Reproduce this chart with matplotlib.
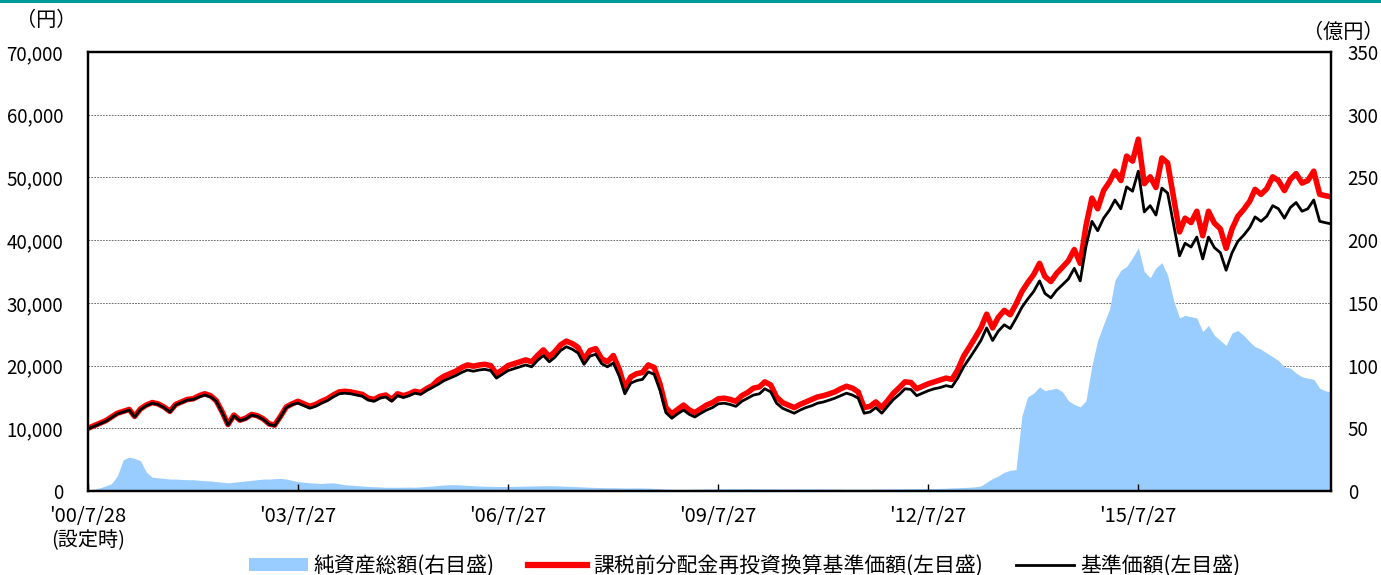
import numpy as np
import pandas as pd
import matplotlib
matplotlib.use('Agg')
import matplotlib.pyplot as plt
from matplotlib.patches import Patch, Rectangle
from matplotlib.lines import Line2D

plt.rcParams['font.family'] = ['Noto Sans CJK JP', 'DejaVu Sans']

# 月次データ（2000/7/28 設定時 〜 2018/4）
start = pd.Timestamp('2000-07-28')
n_months = 214
dates = [start + pd.DateOffset(months=i) for i in range(n_months)]

# 基準価額（千円）
nav = [
    9.9, 10.3, 10.7, 11.1, 11.7, 12.3, 12.6, 12.9, 11.8, 13.0, 13.6, 14.0,
    13.8, 13.3, 12.6, 13.7, 14.1, 14.5, 14.6, 15.0, 15.3, 15.0, 14.3, 12.5,
    10.5, 12.0, 11.2, 11.5, 12.1, 11.9, 11.4, 10.6, 10.4, 11.8, 13.3, 13.8,
    14.0, 13.6, 13.2, 13.5, 14.0, 14.4, 15.0, 15.5, 15.6, 15.5, 15.3, 15.1,
    14.5, 14.3, 14.8, 15.0, 14.3, 15.2, 14.9, 15.2, 15.6, 15.4, 16.0, 16.5,
    17.0, 17.6, 18.0, 18.4, 18.9, 19.3, 19.1, 19.3, 19.4, 19.2, 18.0, 18.6,
    19.2, 19.5, 19.8, 20.1, 19.8, 20.8, 21.6, 20.6, 21.3, 22.4, 23.0, 22.6,
    22.0, 20.2, 21.5, 21.8, 20.3, 19.8, 20.4, 18.3, 15.5, 17.2, 17.6, 17.8,
    19.0, 18.6, 16.0, 12.5, 11.6, 12.3, 12.9, 12.2, 11.8, 12.4, 12.9, 13.3,
    13.9, 14.0, 13.8, 13.5, 14.3, 14.8, 15.3, 15.5, 16.3, 15.8, 14.0, 13.2,
    12.8, 12.4, 12.9, 13.3, 13.6, 14.0, 14.2, 14.5, 14.8, 15.2, 15.6, 15.3,
    14.8, 12.4, 12.6, 13.3, 12.4, 13.5, 14.6, 15.4, 16.3, 16.2, 15.2, 15.6,
    16.0, 16.3, 16.5, 16.8, 16.6, 18.0, 19.8, 21.2, 22.5, 24.0, 26.0, 24.0,
    25.5, 26.5, 25.9, 27.5, 29.3, 30.6, 31.8, 33.5, 31.5, 30.8, 32.0, 32.9,
    33.8, 35.5, 33.5, 39.0, 43.0, 41.5, 43.5, 44.8, 46.4, 45.0, 48.5, 47.8,
    51.0, 44.5, 45.5, 44.0, 48.3, 47.5, 42.5, 37.5, 39.5, 38.9, 40.5, 37.0,
    40.5, 38.8, 38.0, 35.2, 38.0, 39.8, 40.8, 42.0, 43.7, 43.0, 43.8, 45.5,
    45.0, 43.5, 45.2, 46.0, 44.6, 45.0, 46.4, 43.0, 42.8, 42.6,
]

# 課税前分配金再投資換算基準価額（千円）
nav_reinv = [
    10.0, 10.4, 10.8, 11.2, 11.8, 12.4, 12.7, 13.0, 11.9, 13.1, 13.7, 14.1,
    13.9, 13.4, 12.7, 13.8, 14.2, 14.6, 14.7, 15.2, 15.5, 15.2, 14.4, 12.6,
    10.6, 12.1, 11.3, 11.6, 12.2, 12.0, 11.5, 10.7, 10.5, 11.9, 13.4, 13.9,
    14.3, 13.9, 13.5, 13.8, 14.3, 14.7, 15.3, 15.8, 15.9, 15.8, 15.6, 15.4,
    14.8, 14.6, 15.1, 15.3, 14.6, 15.5, 15.2, 15.5, 15.9, 15.7, 16.3, 16.8,
    17.7, 18.3, 18.7, 19.1, 19.7, 20.1, 19.9, 20.1, 20.2, 20.0, 18.7, 19.3,
    20.0, 20.3, 20.6, 20.9, 20.6, 21.6, 22.5, 21.4, 22.2, 23.3, 23.9, 23.5,
    22.9, 21.0, 22.4, 22.7, 21.1, 20.6, 21.6, 19.4, 16.4, 18.2, 18.7, 18.9,
    20.1, 19.7, 17.0, 13.3, 12.3, 13.0, 13.7, 12.9, 12.5, 13.1, 13.7, 14.1,
    14.7, 14.8, 14.6, 14.3, 15.2, 15.7, 16.4, 16.6, 17.4, 16.9, 15.0, 14.1,
    13.7, 13.3, 13.8, 14.2, 14.6, 15.0, 15.2, 15.5, 15.8, 16.3, 16.7, 16.4,
    15.8, 13.3, 13.5, 14.2, 13.3, 14.4, 15.6, 16.5, 17.4, 17.3, 16.3, 16.7,
    17.1, 17.4, 17.7, 18.0, 17.8, 19.3, 21.5, 23.0, 24.4, 26.0, 28.2, 26.0,
    27.7, 28.8, 28.1, 29.8, 31.8, 33.2, 34.5, 36.3, 34.2, 33.4, 34.7, 35.7,
    36.7, 38.5, 36.3, 42.3, 46.7, 45.0, 47.9, 49.3, 51.0, 49.5, 53.4, 52.6,
    56.1, 49.0, 50.1, 48.4, 53.1, 52.3, 46.8, 41.3, 43.5, 42.8, 44.6, 40.7,
    44.6, 42.7, 41.8, 38.7, 41.8, 43.8, 44.9, 46.2, 48.1, 47.3, 48.2, 50.1,
    49.5, 47.9, 49.7, 50.6, 49.1, 49.5, 51.0, 47.3, 47.1, 46.9,
]

# 純資産総額（億円）
net_assets = [
    1, 1.5, 2.5, 4, 6, 12, 25, 27, 26, 24, 15, 11,
    10.5, 10, 9.5, 9.5, 9.2, 9, 9, 8.6, 8.2, 8, 7.5, 7,
    6.5, 7, 7.5, 8, 8.5, 9, 9.5, 9.5, 9.8, 10, 9.5, 8.5,
    7.5, 7, 6.5, 6.2, 6, 6.3, 6.5, 5.8, 5, 4.7, 4.3, 4,
    3.6, 3.4, 3.2, 3, 3, 3, 3, 3.1, 3, 3.3, 3.6, 4,
    4.4, 4.8, 5, 5, 4.8, 4.5, 4.2, 4, 3.8, 3.7, 3.6, 3.6,
    3.6, 3.7, 3.8, 3.9, 4, 4.1, 4.2, 4.2, 4.1, 4, 3.8, 3.6,
    3.4, 3.2, 3, 2.8, 2.7, 2.6, 2.6, 2.5, 2.4, 2.4, 2.5, 2.4,
    2.3, 2.1, 1.8, 1.5, 1.4, 1.3, 1.3, 1.4, 1.5, 1.6, 1.6, 1.7,
    1.7, 1.8, 1.8, 1.8, 1.8, 1.9, 1.9, 1.8, 1.8, 1.7, 1.7, 1.6,
    1.6, 1.6, 1.7, 1.7, 1.7, 1.7, 1.6, 1.6, 1.6, 1.6, 1.5, 1.5,
    1.5, 1.5, 1.5, 1.6, 1.6, 1.6, 1.7, 1.7, 1.8, 1.8, 1.9, 2.0,
    2.0, 2.0, 2.1, 2.2, 2.5, 2.6, 2.8, 3.0, 3.3, 4, 7, 10,
    12, 15, 16.5, 17, 60, 75, 78, 83, 80, 81, 82, 79,
    72, 69, 67, 72, 100, 120, 133, 145, 168, 176, 179, 186,
    194, 175, 170, 178, 182, 172, 152, 138, 140, 139, 138, 127,
    132, 124, 120, 116, 126, 128, 124, 119, 115, 113, 110, 107,
    104, 99, 98, 94, 91, 90, 89, 82, 80, 79,
]

tick_dates = ['2000-07-28', '2003-07-27', '2006-07-27', '2009-07-27', '2012-07-27', '2015-07-27']
tick_labels = ["'00/7/28\n(設定時)", "'03/7/27", "'06/7/27", "'09/7/27", "'12/7/27", "'15/7/27"]

left_ticks = np.arange(0, 70001, 10000)
right_ticks = np.arange(0, 351, 50)

fig = plt.figure(figsize=(13.81, 5.75), dpi=100)
ax = fig.add_axes([88 / 1381, 84 / 575, (1331 - 88) / 1381, (491 - 52) / 575])
ax2 = ax.twinx()
ax.set_zorder(2)
ax2.set_zorder(1)
ax.patch.set_visible(False)

# 純資産総額（右目盛）
ax2.fill_between(dates, 0, net_assets, color='#99CCFF', lw=0, zorder=2)
ax2.set_ylim(0, 350)
ax2.set_yticks(right_ticks)
ax2.set_yticklabels([f'{v:d}' for v in right_ticks], fontsize=13.5)
ax2.tick_params(axis='y', length=0, pad=12)
ax2.grid(axis='y', color='#555555', ls=(0, (2, 1.5)), lw=0.6, zorder=0)
ax2.set_axisbelow(True)

# 基準価額（左目盛）
nav_yen = np.array(nav) * 1000
reinv_yen = np.array(nav_reinv) * 1000
ax.plot(dates, reinv_yen, color='#FF0000', lw=4.0, solid_joinstyle='round')
ax.plot(dates, nav_yen, color='black', lw=2.0)
ax.set_ylim(0, 70000)
ax.set_yticks(left_ticks)
ax.set_yticklabels([f'{v:,d}' for v in left_ticks], fontsize=13.5)
ax.tick_params(axis='y', length=0, pad=18)

ax.set_xlim(start, dates[-1])
ax.set_xticks(pd.to_datetime(tick_dates))
ax.set_xticklabels(tick_labels, fontsize=14.5, linespacing=1.2, va='top')
ax.tick_params(axis='x', direction='in', length=5, width=1, pad=11)
ax2.tick_params(axis='x', length=0)

for a in (ax, ax2):
    for s in a.spines.values():
        s.set_linewidth(1.6)
        s.set_color('black')

fig.text(46 / 1381, 1 - 20 / 575, '（円）', fontsize=14.5, ha='center', va='center')
fig.text(1343 / 1381, 1 - 32 / 575, '（億円）', fontsize=14.5, ha='center', va='center')

# 上部の帯
fig.patches.append(Rectangle((0, 1 - 3 / 575), 1, 3 / 575, transform=fig.transFigure,
                             color='#009999', lw=0))

handles = [
    Patch(facecolor='#99CCFF', edgecolor='none'),
    Line2D([], [], color='#FF0000', lw=4.5),
    Line2D([], [], color='black', lw=2.0),
]
labels = ['純資産総額(右目盛)', '課税前分配金再投資換算基準価額(左目盛)', '基準価額(左目盛)']
fig.legend(handles, labels, loc='center', bbox_to_anchor=(745 / 1381, 9 / 575), ncol=3,
           frameon=False, fontsize=15, handlelength=2.8, handleheight=0.6,
           columnspacing=1.6, handletextpad=0.3)

fig.savefig('out.png', dpi=100)
